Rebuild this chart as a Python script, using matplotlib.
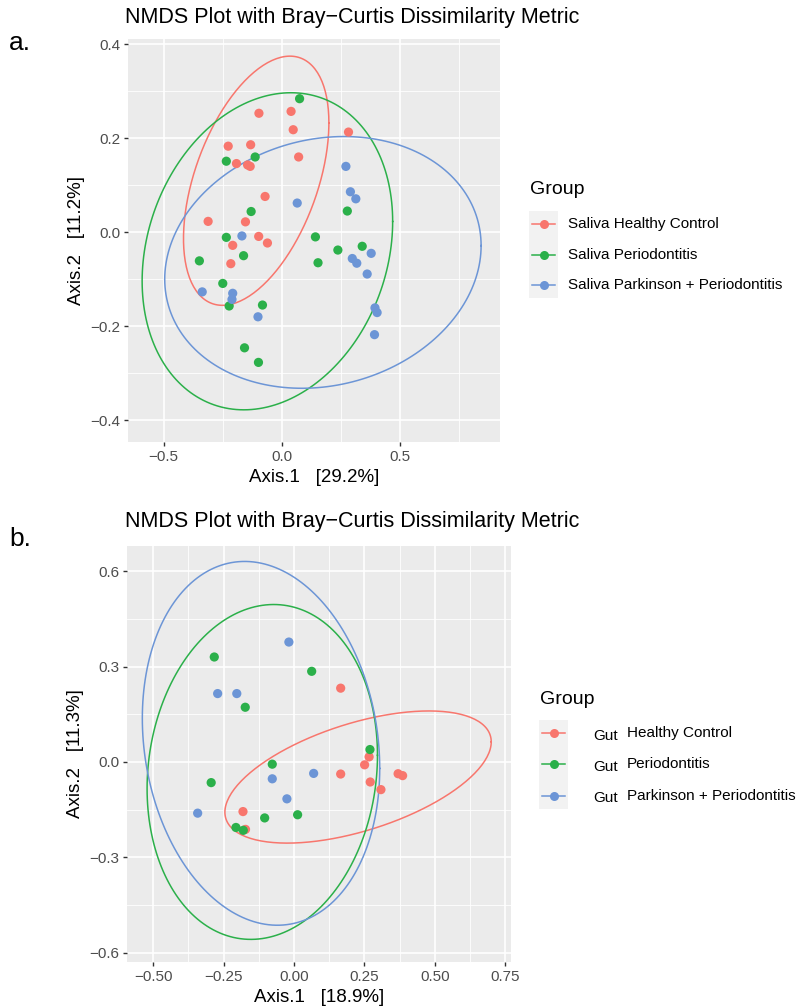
import numpy as np
import matplotlib
matplotlib.use("Agg")
import matplotlib.pyplot as plt
from matplotlib.lines import Line2D
from matplotlib.patches import Rectangle

plt.rcParams['font.family'] = ['Liberation Sans', 'DejaVu Sans']

W, H = 806, 1007

red = '#F8766D'
green = '#2BB04A'
blue = '#6C95D6'
colors = [red, green, blue]

# ---- panel a: saliva ----
a_groups = ['Saliva Healthy Control', 'Saliva Periodontitis', 'Saliva Parkinson + Periodontitis']
a_red_x = [-0.097, 0.039, 0.048, -0.227, -0.132, -0.192, -0.145, -0.134, 0.071, -0.071,
           -0.312, -0.154, -0.098, -0.061, -0.208, -0.216, 0.282]
a_red_y = [0.253, 0.257, 0.218, 0.183, 0.186, 0.146, 0.143, 0.140, 0.160, 0.076,
           0.023, 0.022, -0.009, -0.023, -0.028, -0.067, 0.213]
a_green_x = [0.075, -0.235, -0.113, -0.130, -0.235, 0.142, -0.162, -0.349, -0.250, -0.223,
             -0.082, -0.158, -0.099, 0.153, 0.237, 0.277, 0.340]
a_green_y = [0.284, 0.151, 0.160, 0.044, -0.011, -0.010, -0.050, -0.061, -0.109, -0.157,
             -0.155, -0.246, -0.277, -0.065, -0.038, 0.045, -0.030]
a_blue_x = [0.271, 0.290, 0.313, 0.065, -0.169, -0.337, -0.208, -0.211, -0.101, 0.378,
            0.298, 0.317, 0.361, 0.394, 0.403, 0.392]
a_blue_y = [0.140, 0.086, 0.071, 0.062, -0.008, -0.127, -0.130, -0.143, -0.180, -0.045,
            -0.056, -0.066, -0.089, -0.161, -0.171, -0.218]

# ---- panel b: gut ----
b_groups = ['Healthy Control', 'Periodontitis', 'Parkinson + Periodontitis']
b_red_x = [0.166, 0.267, 0.251, 0.166, 0.370, 0.386, 0.271, 0.309, -0.181, -0.172]
b_red_y = [0.232, 0.016, -0.009, -0.038, -0.037, -0.043, -0.063, -0.087, -0.156, -0.212]
b_green_x = [-0.283, 0.063, -0.173, 0.270, -0.077, -0.294, -0.104, 0.013, -0.206, -0.180]
b_green_y = [0.330, 0.285, 0.172, 0.039, -0.007, -0.065, -0.176, -0.166, -0.206, -0.215]
b_blue_x = [-0.018, -0.271, -0.203, -0.077, 0.070, -0.025, -0.342]
b_blue_y = [0.377, 0.215, 0.215, -0.053, -0.036, -0.116, -0.161]


def cov_trob(x, nu=5, maxit=25, tol=0.01):
    # same idea as MASS::cov.trob used by ggplot stat_ellipse
    n, p = x.shape
    wt = np.ones(n)
    loc = x.mean(0)
    w = np.sqrt(wt)
    for it in range(maxit):
        w0 = w
        X = x - loc
        U, d, Vt = np.linalg.svd(np.sqrt(w / w.sum())[:, None] * X, full_matrices=False)
        wX = X @ Vt.T @ np.diag(1 / d)
        Q = (wX ** 2).sum(1)
        w = (wt * (nu + p)) / (nu + Q)
        loc = (w[:, None] * x).sum(0) / w.sum()
        if np.all(np.abs(w - w0) < tol):
            break
    sX = np.sqrt(w)[:, None] * X
    return loc, sX.T @ sX / wt.sum()


def ellipse(xs, ys, level=0.95, seg=200):
    pts = np.column_stack([xs, ys])
    center, shape = cov_trob(pts)
    dfd = len(xs) - 1
    fq = dfd / 2 * ((1 - level) ** (-2 / dfd) - 1)
    radius = np.sqrt(2 * fq)
    R = np.linalg.cholesky(shape).T
    ang = np.linspace(0, 2 * np.pi, seg + 1)
    circ = np.column_stack([np.cos(ang), np.sin(ang)])
    e = center + radius * circ @ R
    return e[:, 0], e[:, 1]


def px(x, y):
    return x / W, 1 - y / H


fig = plt.figure(figsize=(W / 100, H / 100), dpi=100)


def panel(rect, series, xlim, ylim, xticks, yticks, xminor, yminor, xfmt, yfmt, xlab, ylab):
    ax = fig.add_axes(rect)
    ax.set_facecolor('#EBEBEB')
    for s in ax.spines.values():
        s.set_visible(False)
    ax.set_xlim(xlim)
    ax.set_ylim(ylim)
    ax.set_xticks(xticks)
    ax.set_yticks(yticks)
    ax.set_xticks(xminor, minor=True)
    ax.set_yticks(yminor, minor=True)
    ax.set_xticklabels([xfmt.format(v).replace('-', '\u2212') for v in xticks])
    ax.set_yticklabels([yfmt.format(v).replace('-', '\u2212') for v in yticks])
    ax.grid(True, which='major', color='white', lw=1.2)
    ax.grid(True, which='minor', color='white', lw=0.6)
    ax.set_axisbelow(True)
    ax.tick_params(which='major', length=3, width=1, color='#333333', labelsize=11,
                   labelcolor='#4D4D4D', pad=2.5)
    ax.tick_params(which='minor', length=0)
    for (xs, ys), c in zip(series, colors):
        ex, ey = ellipse(xs, ys)
        ax.plot(ex, ey, color=c, lw=1.1)
    for (xs, ys), c in zip(series, colors):
        ax.scatter(xs, ys, s=44, color=c, edgecolors='none', zorder=3)
    ax.set_xlabel(xlab, fontsize=13.5, labelpad=4)
    ax.set_ylabel(ylab, fontsize=13.5, labelpad=4)
    return ax


def legend(x0, ytitle, ys, labels, prefix=None):
    fig.text(*px(x0 + 1, ytitle), 'Group', fontsize=14, va='center', ha='left')
    fig.patches.append(Rectangle(px(x0, ys[-1] + 13), 29 / W, (ys[-1] - ys[0] + 26) / H,
                                 transform=fig.transFigure, facecolor='#F2F2F2',
                                 edgecolor='none'))
    for y, lab, c in zip(ys, labels, colors):
        fig.add_artist(Line2D([(x0 + 3) / W, (x0 + 26) / W], [1 - y / H] * 2, color=c, lw=1.1,
                              transform=fig.transFigure))
        fig.add_artist(Line2D([(x0 + 14.5) / W], [1 - y / H], color=c, marker='o', ms=6.5,
                              mec='none', transform=fig.transFigure))
        if prefix is None:
            fig.text(*px(x0 + 39, y), lab, fontsize=11, va='center', ha='left')
        else:
            fig.text(*px(x0 + 54, y + 3), prefix, fontsize=11, va='center', ha='left')
            fig.text(*px(x0 + 88, y), lab, fontsize=11, va='center', ha='left')


# panel a
axa = panel([128 / W, 1 - 442.3 / H, 372 / W, 403.3 / H],
            [(a_red_x, a_red_y), (a_green_x, a_green_y), (a_blue_x, a_blue_y)],
            (-0.651, 0.923), (-0.447, 0.411),
            [-0.5, 0.0, 0.5], [-0.4, -0.2, 0.0, 0.2, 0.4],
            [-0.25, 0.25, 0.75], [-0.3, -0.1, 0.1, 0.3],
            '{:.1f}', '{:.1f}', 'Axis.1   [29.2%]', 'Axis.2   [11.2%]')
fig.text(*px(125, 18), 'NMDS Plot with Bray\u2212Curtis Dissimilarity Metric', fontsize=15.5,
         va='center', ha='left')
fig.text(*px(9, 43), 'a.', fontsize=19, va='center', ha='left')
legend(529, 190, [224.3, 254.7, 285], a_groups)

# panel b
axb = panel([127 / W, 1 - 962 / H, 384 / W, 416 / H],
            [(b_red_x, b_red_y), (b_green_x, b_green_y), (b_blue_x, b_blue_y)],
            (-0.593, 0.771), (-0.629, 0.679),
            [-0.5, -0.25, 0.0, 0.25, 0.5, 0.75], [-0.6, -0.3, 0.0, 0.3, 0.6],
            [-0.375, -0.125, 0.125, 0.375, 0.625], [-0.45, -0.15, 0.15, 0.45],
            '{:.2f}', '{:.1f}', 'Axis.1   [18.9%]', 'Axis.2   [11.3%]')
fig.text(*px(125, 521), 'NMDS Plot with Bray\u2212Curtis Dissimilarity Metric', fontsize=15.5,
         va='center', ha='left')
fig.text(*px(9, 539), 'b.', fontsize=19, va='center', ha='left')
legend(539, 700, [733.3, 764.3, 795.5], b_groups, prefix='Gut')

fig.savefig('out.png', dpi=100)
